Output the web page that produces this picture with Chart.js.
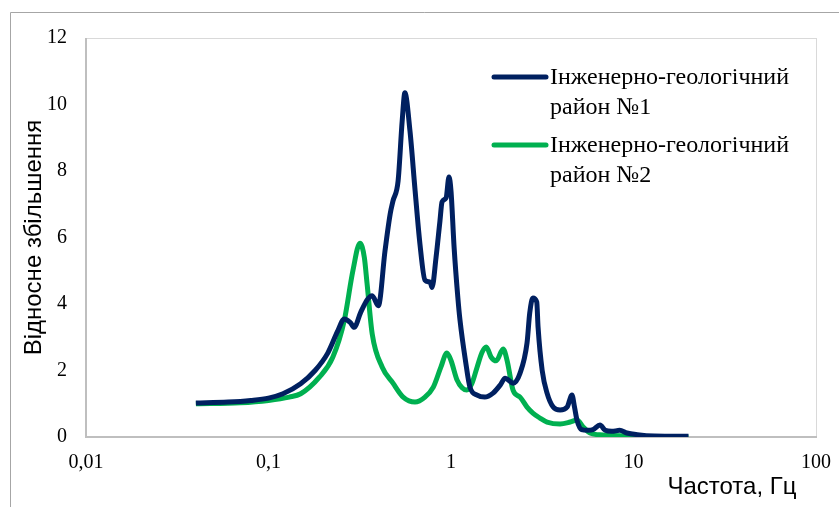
<!DOCTYPE html>
<html>
<head>
<meta charset="utf-8">
<script src="https://cdn.jsdelivr.net/npm/chart.js@4"></script>
<style>
    body { margin: 0; background: #fff; }
    #box { width: 839px; height: 507px; }
</style>
</head>
<body>
<div id="box"><canvas id="grafico1"></canvas></div>
<script>
const ctx = document.getElementById('grafico1')

let nomes = ['Інженерно-геологічний район №1', 'Інженерно-геологічний район №2']
let cores = ['#002060', '#00B050']

let freq1 = [0.04, 0.06, 0.08, 0.1, 0.12, 0.15, 0.18, 0.21, 0.24, 0.26, 0.28, 0.295, 0.32, 0.35, 0.37, 0.4,
    0.435, 0.464, 0.481, 0.513, 0.54, 0.559, 0.596, 0.636, 0.676, 0.72, 0.77, 0.787, 0.828, 0.87, 0.893, 0.94,
    0.975, 1.0, 1.04, 1.09, 1.12, 1.2, 1.27, 1.39, 1.53, 1.7, 1.86, 1.98, 2.19, 2.39, 2.61, 2.7, 2.81, 2.95,
    3.0, 3.16, 3.36, 3.63, 3.96, 4.33, 4.6, 4.75, 4.9, 5.2, 5.6, 6.0, 6.55, 7.0, 7.6, 8.4, 9.2, 10.5, 13, 20]
let amp1 = [1.02, 1.05, 1.1, 1.17, 1.3, 1.6, 2.0, 2.5, 3.2, 3.55, 3.45, 3.3, 3.75, 4.15, 4.25, 3.95,
    5.6, 6.7, 7.1, 7.7, 9.5, 10.35, 9.2, 7.4, 5.8, 4.72, 4.65, 4.5, 5.4, 6.5, 7.07, 7.19,
    7.82, 7.4, 5.7, 4.2, 3.52, 2.3, 1.5, 1.26, 1.2, 1.32, 1.56, 1.77, 1.62, 1.92, 2.83, 3.73, 4.18, 4.06,
    3.3, 2.0, 1.32, 0.9, 0.81, 0.9, 1.26, 0.9, 0.51, 0.22, 0.2, 0.22, 0.36, 0.2, 0.17, 0.2, 0.12, 0.07, 0.03, 0.02]

let freq2 = [0.04, 0.07, 0.1, 0.13, 0.15, 0.19, 0.225, 0.26, 0.29, 0.317, 0.335, 0.347, 0.37, 0.42, 0.481,
    0.547, 0.635, 0.72, 0.8, 0.88, 0.95, 1.0, 1.08, 1.15, 1.22, 1.3, 1.39, 1.48, 1.56, 1.66, 1.77, 1.93,
    2.03, 2.19, 2.39, 2.61, 2.81, 3.07, 3.36, 3.96, 4.5, 4.9, 5.3, 5.78, 6.8, 8.5, 10, 14, 20]
let amp2 = [1.0, 1.03, 1.1, 1.2, 1.3, 1.8, 2.4, 3.5, 5.0, 5.83, 5.4, 4.6, 3.1, 2.1, 1.62,
    1.2, 1.05, 1.2, 1.5, 2.1, 2.53, 2.3, 1.71, 1.48, 1.41, 1.6, 2.1, 2.55, 2.71, 2.4, 2.29, 2.65,
    2.3, 1.4, 1.2, 0.9, 0.72, 0.57, 0.45, 0.39, 0.45, 0.51, 0.3, 0.12, 0.06, 0.04, 0.02, 0.01, 0.0]

let ticksX = [0.01, 0.1, 1, 10, 100]
let labelsX = ['0,01', '0,1', '1', '10', '100']

const serif = "'Liberation Serif', 'Times New Roman', serif"
const sans = "'Liberation Sans', Arial, sans-serif"

const pontos = (xs, ys) => xs.map((x, i) => ({ x: x, y: ys[i] }))

// moldura, legenda e titulo do eixo X
const extras = {
    id: 'extras',
    beforeDraw(chart) {
        const c = chart.ctx
        c.save()
        c.strokeStyle = '#a6a6a6'
        c.lineWidth = 1
        c.beginPath()
        c.moveTo(10.5, chart.height)
        c.lineTo(10.5, 12.5)
        c.lineTo(chart.width, 12.5)
        c.stroke()
        c.restore()
    },
    beforeDatasetsDraw(chart) {
        const a = chart.chartArea
        const c = chart.ctx
        c.save()
        c.strokeStyle = '#d9d9d9'
        c.lineWidth = 1
        c.strokeRect(a.left + 0.5, a.top + 0.5, a.right - a.left, a.bottom - a.top)
        c.strokeStyle = '#bfbfbf'
        c.lineWidth = 2
        c.beginPath()
        c.moveTo(a.left, a.top)
        c.lineTo(a.left, a.bottom)
        c.lineTo(a.right + 1, a.bottom)
        c.stroke()
        c.restore()
    },
    afterDraw(chart) {
        const c = chart.ctx
        c.save()
        chart.data.datasets.forEach((ds, i) => {
            const y = 77 + i * 68
            c.strokeStyle = ds.borderColor
            c.lineWidth = 5
            c.lineCap = 'round'
            c.beginPath()
            c.moveTo(494, y)
            c.lineTo(546, y)
            c.stroke()
            c.fillStyle = '#000'
            c.font = '24px ' + serif
            c.textBaseline = 'middle'
            c.textAlign = 'left'
            const partes = ds.label.split(' район')
            c.fillText(partes[0], 550, y + 1)
            c.fillText('район' + partes[1], 550, y + 31)
        })
        c.font = '24px ' + sans
        c.textAlign = 'center'
        c.textBaseline = 'middle'
        c.fillText('Частота, Гц', 732, 487)
        c.restore()
    }
}

let grafico1 = new Chart(ctx, {
    type: 'line',
    data: {
        datasets: [
            { label: nomes[0], data: pontos(freq1, amp1), borderColor: cores[0], borderWidth: 5 },
            { label: nomes[1], data: pontos(freq2, amp2), borderColor: cores[1], borderWidth: 5 }
        ]
    },
    options: {
        responsive: true,
        maintainAspectRatio: false,
        animation: false,
        cubicInterpolationMode: 'monotone',
        pointRadius: 0,
        layout: { padding: { top: 38, right: 23, left: 0, bottom: 0 } },
        plugins: {
            legend: { display: false },
            tooltip: { enabled: false }
        },
        scales: {
            x: {
                type: 'logarithmic',
                min: 0.01,
                max: 100,
                grid: { display: false, drawTicks: false },
                border: { display: false },
                afterBuildTicks: (s) => { s.ticks = ticksX.map(v => ({ value: v })) },
                afterFit: (s) => {
                    s.height = 70
                    s.paddingLeft = 0
                    s.paddingRight = 0
                },
                ticks: {
                    color: '#000',
                    padding: 14,
                    maxRotation: 0,
                    autoSkip: false,
                    font: { family: serif, size: 20 },
                    callback: (v, i) => labelsX[i]
                }
            },
            y: {
                min: 0,
                max: 12,
                grid: { display: false, drawTicks: false },
                border: { display: false },
                afterFit: (s) => { s.width = 86 },
                title: {
                    display: true,
                    text: 'Відносне збільшення',
                    color: '#000',
                    padding: { top: 20, bottom: 0 },
                    font: { family: sans, size: 24 }
                },
                ticks: {
                    stepSize: 2,
                    color: '#000',
                    padding: 19,
                    font: { family: serif, size: 20 }
                }
            }
        }
    },
    plugins: [extras]
})
</script>
</body>
</html>
